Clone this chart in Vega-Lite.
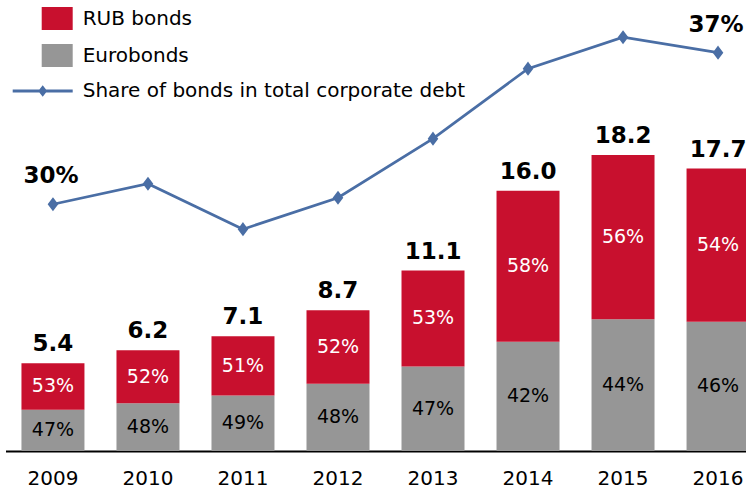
{
  "$schema": "https://vega.github.io/schema/vega-lite/v6.json",
  "width": 746,
  "height": 451,
  "autosize": {"type": "none"},
  "padding": {"left": 0, "top": 0, "right": 0, "bottom": 40},
  "background": "white",
  "config": {
    "view": {"stroke": null},
    "font": "DejaVu Sans",
    "text": {"font": "DejaVu Sans"}
  },
  "datasets": {
    "segs": [
      {"year": "2009", "type": "Eurobonds", "ord": 0, "value": 2.54, "pct": "47%"},
      {"year": "2009", "type": "RUB bonds", "ord": 1, "value": 2.86, "pct": "53%"},
      {"year": "2010", "type": "Eurobonds", "ord": 0, "value": 2.94, "pct": "48%"},
      {"year": "2010", "type": "RUB bonds", "ord": 1, "value": 3.26, "pct": "52%"},
      {"year": "2011", "type": "Eurobonds", "ord": 0, "value": 3.42, "pct": "49%"},
      {"year": "2011", "type": "RUB bonds", "ord": 1, "value": 3.64, "pct": "51%"},
      {"year": "2012", "type": "Eurobonds", "ord": 0, "value": 4.14, "pct": "48%"},
      {"year": "2012", "type": "RUB bonds", "ord": 1, "value": 4.52, "pct": "52%"},
      {"year": "2013", "type": "Eurobonds", "ord": 0, "value": 5.2, "pct": "47%"},
      {"year": "2013", "type": "RUB bonds", "ord": 1, "value": 5.9, "pct": "53%"},
      {"year": "2014", "type": "Eurobonds", "ord": 0, "value": 6.72, "pct": "42%"},
      {"year": "2014", "type": "RUB bonds", "ord": 1, "value": 9.28, "pct": "58%"},
      {"year": "2015", "type": "Eurobonds", "ord": 0, "value": 8.1, "pct": "44%"},
      {"year": "2015", "type": "RUB bonds", "ord": 1, "value": 10.1, "pct": "56%"},
      {"year": "2016", "type": "Eurobonds", "ord": 0, "value": 7.95, "pct": "46%"},
      {"year": "2016", "type": "RUB bonds", "ord": 1, "value": 9.42, "pct": "54%"}
    ],
    "totals": [
      {"year": "2009", "total": 5.4, "label": "5.4"},
      {"year": "2010", "total": 6.2, "label": "6.2"},
      {"year": "2011", "total": 7.06, "label": "7.1"},
      {"year": "2012", "total": 8.66, "label": "8.7"},
      {"year": "2013", "total": 11.1, "label": "11.1"},
      {"year": "2014", "total": 16.0, "label": "16.0"},
      {"year": "2015", "total": 18.2, "label": "18.2"},
      {"year": "2016", "total": 17.37, "label": "17.7"}
    ],
    "share": [
      {"year": "2009", "share": 30.0, "label": "30%"},
      {"year": "2010", "share": 30.95, "label": ""},
      {"year": "2011", "share": 28.85, "label": ""},
      {"year": "2012", "share": 30.3, "label": ""},
      {"year": "2013", "share": 33.03, "label": ""},
      {"year": "2014", "share": 36.26, "label": ""},
      {"year": "2015", "share": 37.71, "label": ""},
      {"year": "2016", "share": 37.0, "label": "37%"}
    ]
  },
  "encoding": {
    "x": {
      "field": "year",
      "type": "ordinal",
      "scale": {"range": [5.5, 765.5], "paddingInner": 0.337, "paddingOuter": 0.168},
      "axis": {
        "title": null,
        "labelAngle": 0,
        "labelFont": "DejaVu Sans",
        "labelFontSize": 20,
        "labelColor": "black",
        "labelPadding": 17,
        "ticks": false,
        "domainColor": "black",
        "domainWidth": 2,
        "grid": false
      }
    }
  },
  "layer": [
    {
      "layer": [
        {
          "data": {"name": "segs"},
          "mark": {"type": "bar"},
          "encoding": {
            "y": {"field": "value", "type": "quantitative", "stack": "zero", "scale": {"domain": [0, 27.74]}, "axis": null},
            "order": {"field": "ord", "type": "quantitative"},
            "color": {
              "field": "type",
              "type": "nominal",
              "scale": {"domain": ["RUB bonds", "Eurobonds"], "range": ["#C8102E", "#969696"]},
              "legend": {
                "title": null,
                "orient": "none",
                "legendX": 41.7,
                "legendY": 3,
                "padding": 0,
                "symbolType": "M-1,-0.742H1V0.742H-1Z",
                "symbolSize": 961,
                "symbolStrokeWidth": 0,
                "symbolOpacity": 1,
                "labelFont": "DejaVu Sans",
                "labelFontSize": 20,
                "labelColor": "black",
                "labelOffset": 10,
                "rowPadding": 9,
                "labelLimit": 500
              }
            }
          }
        },
        {
          "data": {"name": "segs"},
          "mark": {"type": "text", "fontSize": 19, "baseline": "middle"},
          "encoding": {
            "y": {"field": "value", "type": "quantitative", "stack": "zero", "bandPosition": 0.5, "scale": {"domain": [0, 27.74]}, "axis": null},
            "order": {"field": "ord", "type": "quantitative"},
            "text": {"field": "pct"},
            "color": {"condition": {"test": "datum.type === 'RUB bonds'", "value": "white"}, "value": "black"}
          }
        },
        {
          "data": {"name": "totals"},
          "mark": {"type": "text", "fontSize": 23, "fontWeight": "bold", "baseline": "alphabetic", "dy": -12, "color": "black"},
          "encoding": {
            "y": {"field": "total", "type": "quantitative", "scale": {"domain": [0, 27.74]}, "axis": null},
            "text": {"field": "label"}
          }
        }
      ]
    },
    {
      "layer": [
        {
          "data": {"name": "share"},
          "mark": {"type": "line", "strokeWidth": 2.75, "point": {"shape": "M0,-1.2L0.9,0L0,1.2L-0.9,0Z", "filled": true, "size": 81, "color": "#4A6EA5"}},
          "encoding": {
            "y": {"field": "share", "type": "quantitative", "scale": {"domain": [18.61, 39.43]}, "axis": null},
            "stroke": {
              "datum": "Share of bonds in total corporate debt",
              "type": "nominal",
              "scale": {"range": ["#4A6EA5"]},
              "legend": {
                "title": null,
                "orient": "none",
                "legendX": 12.7,
                "legendY": 61,
                "padding": 0,
                "symbolType": "M-1,-0.05H1V0.05H-1ZM0,-0.19L0.15,0L0,0.19L-0.15,0Z",
                "symbolSize": 3600,
                "symbolStrokeWidth": 0,
                "symbolFillColor": "#4A6EA5",
                "symbolOpacity": 1,
                "labelFont": "DejaVu Sans",
                "labelFontSize": 20,
                "labelColor": "black",
                "labelOffset": 10,
                "labelLimit": 500
              }
            }
          }
        },
        {
          "data": {"name": "share"},
          "mark": {"type": "text", "fontSize": 23, "fontWeight": "bold", "baseline": "alphabetic", "dy": -21, "dx": -2, "color": "black"},
          "encoding": {
            "y": {"field": "share", "type": "quantitative", "scale": {"domain": [18.61, 39.43]}, "axis": null},
            "text": {"field": "label"}
          }
        }
      ]
    }
  ],
  "resolve": {"scale": {"y": "independent"}}
}
